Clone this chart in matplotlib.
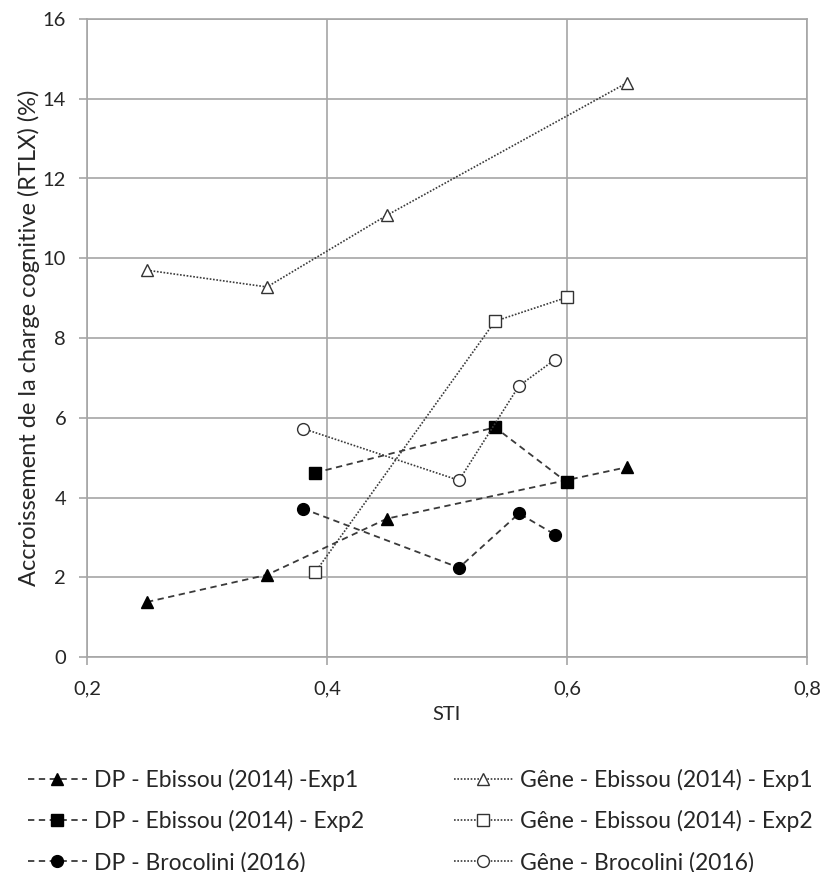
import matplotlib
matplotlib.use("Agg")
import matplotlib.pyplot as plt
from matplotlib.ticker import FuncFormatter

plt.rcParams['font.family'] = ['Lato', 'DejaVu Sans']

# Series: STI vs increase in cognitive load (RTLX, %)
dp_exp1_x = [0.25, 0.35, 0.45, 0.65]
dp_exp1_y = [1.38, 2.06, 3.47, 4.76]

dp_exp2_x = [0.39, 0.54, 0.60]
dp_exp2_y = [4.62, 5.76, 4.38]

dp_broc_x = [0.38, 0.51, 0.56, 0.59]
dp_broc_y = [3.72, 2.24, 3.60, 3.07]

gene_exp1_x = [0.25, 0.35, 0.45, 0.65]
gene_exp1_y = [9.70, 9.28, 11.08, 14.40]

gene_exp2_x = [0.39, 0.54, 0.60]
gene_exp2_y = [2.12, 8.42, 9.02]

gene_broc_x = [0.38, 0.51, 0.56, 0.59]
gene_broc_y = [5.73, 4.43, 6.80, 7.46]

labels = [
    "DP - Ebissou (2014) -Exp1",
    "DP - Ebissou (2014) - Exp2",
    "DP - Brocolini (2016)",
    "Gêne - Ebissou (2014) - Exp1",
    "Gêne - Ebissou (2014) - Exp2",
    "Gêne - Brocolini (2016)",
]

fig = plt.figure(figsize=(8.33, 8.72), dpi=100)
ax = fig.add_axes([87 / 833, 1 - 657 / 872, 720 / 833, 638 / 872])

dash = (0, (3.5, 2.5))
dot = (0, (1, 1))
lc = '#3a3a3a'

h = []
h += ax.plot(dp_exp1_x, dp_exp1_y, linestyle=dash, color=lc, lw=1.3,
             marker='^', ms=9, mfc='black', mec='black')
h += ax.plot(dp_exp2_x, dp_exp2_y, linestyle=dash, color=lc, lw=1.3,
             marker='s', ms=8.5, mfc='black', mec='black')
h += ax.plot(dp_broc_x, dp_broc_y, linestyle=dash, color=lc, lw=1.3,
             marker='o', ms=8.5, mfc='black', mec='black')
h += ax.plot(gene_exp1_x, gene_exp1_y, linestyle=dot, color=lc, lw=1.2,
             marker='^', ms=9, mfc='white', mec='#333333', mew=1.0)
h += ax.plot(gene_exp2_x, gene_exp2_y, linestyle=dot, color=lc, lw=1.2,
             marker='s', ms=8.5, mfc='white', mec='#333333', mew=1.0)
h += ax.plot(gene_broc_x, gene_broc_y, linestyle=dot, color=lc, lw=1.2,
             marker='o', ms=8.5, mfc='white', mec='#333333', mew=1.0)

ax.set_xlim(0.2, 0.8)
ax.set_ylim(0, 16)
ax.set_xticks([0.2, 0.4, 0.6, 0.8])
ax.set_yticks(range(0, 17, 2))
ax.xaxis.set_major_formatter(FuncFormatter(lambda v, p: f"{v:.1f}".replace('.', ',')))
ax.grid(True, color='#a6a6a6', lw=1.2)
ax.set_axisbelow(True)
for s in ax.spines.values():
    s.set_color('#a6a6a6')
    s.set_linewidth(1.2)
ax.tick_params(direction='out', length=6, width=1.2, color='#a6a6a6',
               labelsize=14.5, labelcolor='#262626')
ax.tick_params(axis='y', pad=9)
ax.tick_params(axis='x', pad=11)

ax.set_xlabel("STI", fontsize=14.5, color='#262626', labelpad=6)
ax.set_ylabel("Accroissement de la charge cognitive (RTLX) (%)", fontsize=17,
              color='#262626', labelpad=2)

fig.legend(h, labels, ncol=2, frameon=False, loc='upper left',
           bbox_to_anchor=(7 / 833, 1 - 748 / 872), fontsize=16.5,
           handlelength=2.6, handletextpad=0.3, columnspacing=3.9,
           labelspacing=0.85, labelcolor='#262626')

fig.savefig("out.png", dpi=100)
